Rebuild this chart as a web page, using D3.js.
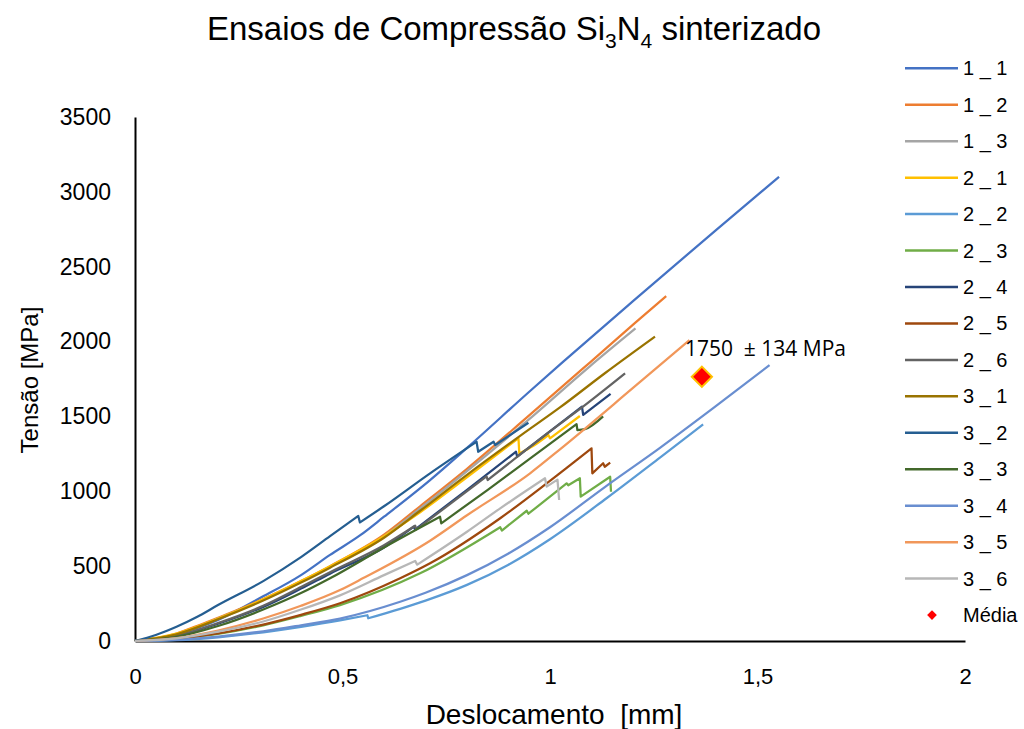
<!DOCTYPE html>
<html>
<head>
<meta charset="utf-8">
<script src="https://cdn.jsdelivr.net/npm/d3@7"></script>
<style>
  body { margin: 0; background: #fff; }
  text { font-family: "Liberation Sans", Arial, sans-serif; fill: #000; white-space: pre; }
</style>
</head>
<body>
<svg id="chart" width="1024" height="729"></svg>
<script>
// ensaios: [deslocamento mm, tensao MPa]
var s1_1 = [[0,0],[0.1,45],[0.2,140],[0.3,285],[0.4,440],[0.47,575],[0.542,705],[0.6,830],[0.711,1075],[0.8,1290],[0.952,1670],[1.032,1866],[1.2,2270],[1.4,2745],[1.552,3100]];
var s1_2 = [[0,0],[0.1,50],[0.149,100],[0.2,155],[0.309,280],[0.4,400],[0.47,500],[0.6,710],[0.687,900],[0.8,1150],[0.945,1495],[1.096,1860],[1.205,2125],[1.28,2304]];
var s1_3 = [[0,0],[0.1,45],[0.2,150],[0.309,275],[0.4,395],[0.47,495],[0.6,700],[0.687,885],[0.8,1135],[0.945,1470],[1.096,1835],[1.206,2088]];
var s2_1 = [[0,0],[0.1,50],[0.2,150],[0.309,278],[0.4,400],[0.47,500],[0.6,700],[0.687,860],[0.791,1075],[0.924,1354],[0.926,1253],[0.96,1304],[0.996,1376],[1.0,1354],[1.072,1503]];
var s2_2 = [[0,0],[0.1,6],[0.2,25],[0.309,58],[0.4,95],[0.494,138],[0.56,172],[0.562,152],[0.639,215],[0.7,270],[0.8,375],[0.9,510],[1.0,680],[1.137,955],[1.265,1225],[1.369,1447]];
var s2_3 = [[0,0],[0.1,14],[0.2,48],[0.309,105],[0.4,168],[0.494,240],[0.687,452],[0.88,760],[0.884,738],[0.944,870],[0.948,850],[1.04,1053],[1.044,1040],[1.072,1087],[1.074,964],[1.145,1097],[1.147,997]];
var s2_4 = [[0,0],[0.1,33],[0.2,115],[0.309,228],[0.4,350],[0.47,450],[0.6,625],[0.671,763],[0.675,745],[0.8,1010],[0.918,1264],[0.921,1231],[1.077,1565],[1.08,1510],[1.146,1650]];
var s2_5 = [[0,0],[0.1,15],[0.2,50],[0.309,110],[0.4,175],[0.494,252],[0.639,419],[0.711,519],[0.88,820],[0.992,1053],[1.10,1287],[1.102,1120],[1.128,1187],[1.132,1164],[1.145,1191]];
var s2_6 = [[0,0],[0.1,35],[0.2,120],[0.309,235],[0.4,360],[0.47,460],[0.6,640],[0.675,770],[0.678,745],[0.847,1100],[0.85,1075],[1.0,1400],[1.077,1560],[1.181,1788]];
var s3_1 = [[0,0],[0.1,45],[0.2,145],[0.309,270],[0.4,390],[0.47,490],[0.6,690],[0.687,870],[0.8,1110],[0.928,1370],[1.024,1560],[1.133,1790],[1.253,2033]];
var s3_2 = [[0,0],[0.05,40],[0.1,95],[0.149,160],[0.2,240],[0.309,400],[0.4,560],[0.47,700],[0.538,835],[0.542,792],[0.6,900],[0.711,1120],[0.823,1331],[0.827,1264],[0.864,1331],[0.868,1309],[0.948,1458]];
var s3_3 = [[0,0],[0.1,28],[0.2,100],[0.309,210],[0.4,320],[0.47,419],[0.6,625],[0.735,830],[0.738,786],[0.85,1010],[0.95,1215],[1.064,1449],[1.066,1409],[1.084,1415],[1.128,1500]];
var s3_4 = [[0,0],[0.1,8],[0.2,30],[0.309,65],[0.4,105],[0.494,150],[0.639,262],[0.7,322],[0.8,440],[0.9,585],[1.0,760],[1.133,1030],[1.265,1290],[1.398,1565],[1.529,1843]];
var s3_5 = [[0,0],[0.1,20],[0.2,70],[0.309,150],[0.4,235],[0.494,340],[0.55,420],[0.711,670],[0.8,840],[0.952,1120],[1.024,1280],[1.2,1690],[1.336,2010]];
var s3_6 = [[0,0],[0.1,18],[0.2,62],[0.309,130],[0.4,210],[0.494,305],[0.6,440],[0.675,535],[0.68,510],[0.8,730],[0.88,886],[0.988,1087],[0.992,1031],[1.018,1078],[1.022,942]];

var names  = ['1 _ 1','1 _ 2','1 _ 3','2 _ 1','2 _ 2','2 _ 3','2 _ 4','2 _ 5','2 _ 6','3 _ 1','3 _ 2','3 _ 3','3 _ 4','3 _ 5','3 _ 6'];
var series = [s1_1, s1_2, s1_3, s2_1, s2_2, s2_3, s2_4, s2_5, s2_6, s3_1, s3_2, s3_3, s3_4, s3_5, s3_6];
var colors = ['#4472C4','#ED7D31','#A5A5A5','#FFC000','#5B9BD5','#70AD47','#264478','#9E480E','#636363','#997300','#255E91','#43682B','#698ED0','#F1975A','#B7B7B7'];

var media = [1.366, 1765];
var mediaLabel = '1750  \u00B1 134 MPa';

var xTicks = [0, 0.5, 1, 1.5, 2];
var yTicks = [0, 500, 1000, 1500, 2000, 2500, 3000, 3500];

var svg = d3.select('#chart');

var x = d3.scaleLinear().domain([0, 2]).range([135, 965]);
var y = d3.scaleLinear().domain([0, 3500]).range([641, 117]);

var fmtX = function (d) { return String(d).replace('.', ','); };

// eixos
var gx = svg.append('g')
  .attr('transform', 'translate(0,641)')
  .call(d3.axisBottom(x).tickValues(xTicks).tickFormat(fmtX).tickSize(0).tickPadding(27));
var gy = svg.append('g')
  .attr('transform', 'translate(135,0)')
  .call(d3.axisLeft(y).tickValues(yTicks).tickFormat(d3.format('d')).tickSize(0).tickPadding(24));

[gx, gy].forEach(function (g) {
  g.select('.domain').attr('stroke', '#000').attr('stroke-width', 2);
  g.selectAll('text').style('font-size', '22px').attr('fill', '#000')
    .style('font-family', '"Liberation Sans", Arial, sans-serif');
});
gy.selectAll('text').style('font-size', '23px');

// curvas: trechos suaves, quedas de carga em linha reta
var line = d3.line()
  .x(function (d) { return x(d[0]); })
  .y(function (d) { return y(d[1]); })
  .curve(d3.curveMonotoneX);

function pathFor(data) {
  var runs = [[data[0]]];
  for (var i = 1; i < data.length; i++) {
    if (data[i][1] < data[i - 1][1]) runs.push([data[i]]);
    else runs[runs.length - 1].push(data[i]);
  }
  return runs.map(function (r, k) {
    var p = r.length > 1 ? line(r) : 'M' + x(r[0][0]) + ',' + y(r[0][1]);
    return k ? p.replace(/^M/, 'L') : p;
  }).join('');
}

svg.append('g').selectAll('path')
  .data(series)
  .enter()
  .append('path')
  .attr('d', pathFor)
  .attr('fill', 'none')
  .attr('stroke', function (d, i) { return colors[i]; })
  .attr('stroke-width', 2.25)
  .attr('stroke-linejoin', 'round');

// media
var diamond = d3.symbol().type(d3.symbolDiamond2);
svg.append('path')
  .attr('d', diamond.size(260)())
  .attr('transform', 'translate(' + x(media[0]) + ',' + y(media[1]) + ')')
  .attr('fill', '#FF0000')
  .attr('stroke', '#FFC000')
  .attr('stroke-width', 2);
svg.append('text')
  .attr('x', x(media[0]) - 17)
  .attr('y', y(media[1]) - 21)
  .style('font-family', '"Open Sans", sans-serif')
  .style('font-size', '21px')
  .text(mediaLabel);

// titulos
var title = svg.append('text')
  .attr('x', 514).attr('y', 40)
  .attr('text-anchor', 'middle')
  .style('font-size', '33px');
title.append('tspan').text('Ensaios de Compress\u00E3o Si');
title.append('tspan').attr('dy', 8).style('font-size', '21px').text('3');
title.append('tspan').attr('dy', -8).text('N');
title.append('tspan').attr('dy', 8).style('font-size', '21px').text('4');
title.append('tspan').attr('dy', -8).text(' sinterizado');

svg.append('text')
  .attr('x', 554).attr('y', 724)
  .attr('text-anchor', 'middle')
  .style('font-size', '28px')
  .text('Deslocamento  [mm]');

svg.append('text')
  .attr('transform', 'translate(38,380) rotate(-90)')
  .attr('text-anchor', 'middle')
  .style('font-size', '24px')
  .text('Tens\u00E3o [MPa]');

// legenda
var leg = svg.append('g').selectAll('g')
  .data(names)
  .enter()
  .append('g')
  .attr('transform', function (d, i) { return 'translate(905,' + (68.3 + i * 36.45) + ')'; });
leg.append('line')
  .attr('x1', 0).attr('x2', 53)
  .attr('stroke', function (d, i) { return colors[i]; })
  .attr('stroke-width', 2.5);
leg.append('text')
  .attr('x', 58).attr('dy', '0.35em')
  .style('font-size', '20px')
  .text(function (d) { return d; });

var legM = svg.append('g').attr('transform', 'translate(905,' + (68.3 + 15 * 36.45) + ')');
legM.append('path')
  .attr('d', diamond.size(60)())
  .attr('transform', 'translate(27,0)')
  .attr('fill', '#FF0000');
legM.append('text')
  .attr('x', 58).attr('dy', '0.35em')
  .style('font-size', '20px')
  .text('M\u00E9dia');
</script>
</body>
</html>
